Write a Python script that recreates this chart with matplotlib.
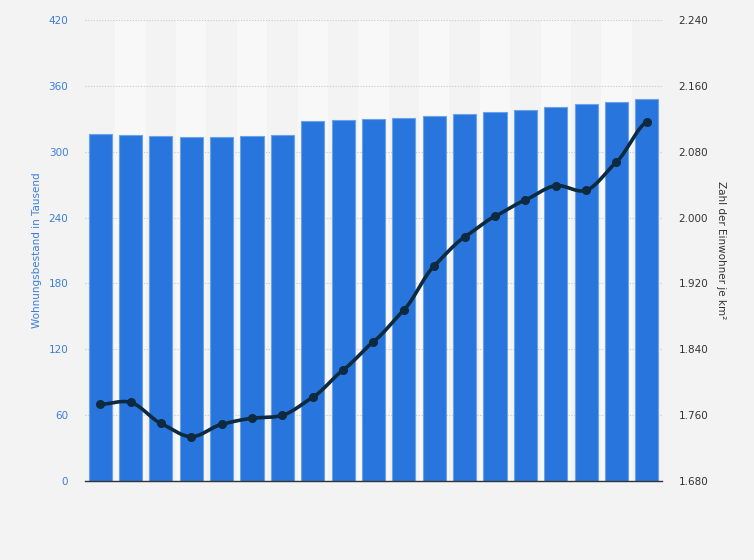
import numpy as np
import matplotlib
matplotlib.use("Agg")
import matplotlib.pyplot as plt
from matplotlib.ticker import FixedLocator, FuncFormatter

# Data
wohnungsbestand = [316.1, 315.2, 314.3, 313.4, 313.4, 314.3, 315.2, 328.0, 328.9, 329.8,
                   330.7, 332.6, 334.4, 336.2, 338.0, 340.7, 343.5, 345.3, 348.0]
einwohner_km2 = [1773, 1775.6, 1750, 1733.8, 1748.9, 1756.2, 1759.8, 1781.7, 1814.8, 1849.2,
                 1887.7, 1941.5, 1976.4, 2001.5, 2021.4, 2038.8, 2033.1, 2067.5, 2116.1]
left_ticks = [0, 60, 120, 180, 240, 300, 360, 420]
right_ticks = [1680, 1760, 1840, 1920, 2000, 2080, 2160, 2240]

BG = "#f3f3f3"
BAR = "#2876dd"
LINE = "#0e2a40"

fig = plt.figure(figsize=(7.54, 5.6), dpi=100, facecolor=BG)
ax = fig.add_axes([85/754, 79/560, (662-85)/754, (481-20)/560])
ax.set_facecolor(BG)
n = len(wohnungsbestand)
x = np.arange(n)

# alternating column bands
for i in range(n):
    if i % 2 == 1:
        ax.axvspan(i - 0.5, i + 0.5, color="#f8f8f8", zorder=0, lw=0)

ax.bar(x, wohnungsbestand, width=0.76, color=BAR, edgecolor="#6aa3ea", linewidth=0.8, zorder=3)
ax.set_xlim(-0.5, n - 0.5)
ax.set_ylim(0, 420)
ax.yaxis.set_major_locator(FixedLocator(left_ticks))
ax.grid(axis="y", color="#c8c8c8", linestyle=(0, (1, 1.5)), linewidth=0.8, zorder=1)
ax.set_axisbelow(True)
ax.set_xticks([])
for s in ["top", "right", "left"]:
    ax.spines[s].set_visible(False)
ax.spines["bottom"].set_color("#333333")
ax.spines["bottom"].set_linewidth(1.0)
ax.spines["bottom"].set_zorder(5)
ax.tick_params(axis="y", length=0, labelsize=7.5, labelcolor="#3b7ddb", pad=12)
ax.set_ylabel("Wohnungsbestand in Tausend", color="#3b7ddb", fontsize=7.5, labelpad=5)

ax2 = ax.twinx()
ax2.set_ylim(1680, 2240)
ax2.yaxis.set_major_locator(FixedLocator(right_ticks))
ax2.yaxis.set_major_formatter(FuncFormatter(lambda v, p: f"{int(v):,}".replace(",", ".")))
for s in ["top", "right", "left", "bottom"]:
    ax2.spines[s].set_visible(False)
ax2.tick_params(axis="y", length=0, labelsize=7.5, labelcolor="#333333", pad=12)
ax2.set_ylabel("Zahl der Einwohner je km²", color="#333333", fontsize=7.5, rotation=-90, labelpad=13)

# smooth curve through points (Catmull-Rom rendering)
y = np.array(einwohner_km2, dtype=float)
px = np.concatenate([[x[0] - (x[1] - x[0])], x, [x[-1] + (x[-1] - x[-2])]]).astype(float)
py = np.concatenate([[y[0]], y, [y[-1]]])
cx, cy = [], []
t = np.linspace(0, 1, 20)
for i in range(1, len(px) - 2):
    p0, p1, p2, p3 = py[i-1], py[i], py[i+1], py[i+2]
    m1 = (p2 - p0) / 2 * 0.8
    m2 = (p3 - p1) / 2 * 0.8
    h00 = 2*t**3 - 3*t**2 + 1
    h10 = t**3 - 2*t**2 + t
    h01 = -2*t**3 + 3*t**2
    h11 = t**3 - t**2
    cy.extend(h00*p1 + h10*m1 + h01*p2 + h11*m2)
    cx.extend(px[i] + t*(px[i+1]-px[i]))
ax2.plot(cx, cy, color=LINE, linewidth=2.6, zorder=6, solid_capstyle="round")
ax2.plot(x, y, "o", color=LINE, markersize=5.5, zorder=7)

fig.savefig("out.png", dpi=100, facecolor=BG)
